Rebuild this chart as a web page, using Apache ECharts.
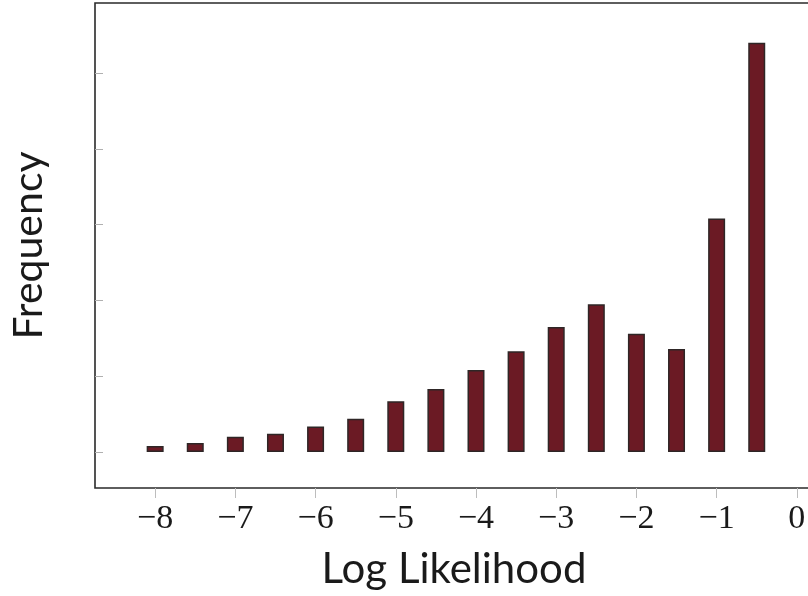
<!DOCTYPE html>
<html>
<head>
<meta charset="utf-8">
<script src="https://cdn.jsdelivr.net/npm/echarts@6/dist/echarts.min.js"></script>
<style>
  html, body { margin: 0; padding: 0; background: #fff; overflow: hidden; width: 808px; height: 596px; }
  #chart { width: 870px; height: 596px; }
</style>
</head>
<body>
<div id="chart"></div>
<script>
// Histogram bin centres (log likelihood) and relative frequencies
const binCentres = [-8, -7.5, -7, -6.5, -6, -5.5, -5, -4.5, -4, -3.5, -3, -2.5, -2, -1.5, -1, -0.5];
const frequency  = [0.08, 0.12, 0.20, 0.24, 0.335, 0.44, 0.67, 0.83, 1.08, 1.33, 1.65, 1.95, 1.56, 1.36, 3.08, 5.40];
const xTicks = [-8, -7, -6, -5, -4, -3, -2, -1, 0];
const yTicks = [0, 1, 2, 3, 4, 5];

const fmtMinus = v => (v < 0 ? '\u2212' + Math.abs(v) : String(v));

const chart = echarts.init(document.getElementById('chart'), null, { renderer: 'canvas' });
chart.setOption({
  animation: false,
  backgroundColor: '#ffffff',
  grid: {
    left: 95, top: 3, width: 762, height: 485,
    show: true, borderColor: '#2a2a2a', borderWidth: 1.6, backgroundColor: 'transparent'
  },
  xAxis: {
    type: 'value',
    min: -8.75, max: 0.75,
    name: 'Log Likelihood',
    nameLocation: 'middle',
    nameGap: 60,
    nameTextStyle: { fontFamily: 'Lato', fontSize: 42, color: '#1a1a1a', padding: [0, 44, 0, 0] },
    axisLine: { show: false, onZero: false },
    splitLine: { show: false },
    axisTick: { show: true, inside: false, length: 10, customValues: xTicks, lineStyle: { color: '#bdbdbd', width: 1 } },
    axisLabel: {
      customValues: xTicks, formatter: fmtMinus, margin: 14,
      fontFamily: 'Liberation Serif', fontSize: 34, color: '#1a1a1a'
    }
  },
  yAxis: {
    type: 'value',
    min: -0.475, max: 5.923,
    name: 'Frequency',
    nameLocation: 'middle',
    nameGap: 46,
    nameTextStyle: { fontFamily: 'Lato', fontSize: 41, color: '#1a1a1a' },
    axisLine: { show: false, onZero: false },
    splitLine: { show: false },
    axisTick: { show: true, inside: true, length: 8, customValues: yTicks, lineStyle: { color: '#b0b0b0', width: 1 } },
    axisLabel: { show: false }
  },
  series: [{
    type: 'bar',
    data: binCentres.map((x, i) => [x, frequency[i]]),
    barWidth: 17,
    itemStyle: { color: '#6b1a24', borderColor: '#2e2626', borderWidth: 1.5 }
  }]
});
</script>
</body>
</html>
